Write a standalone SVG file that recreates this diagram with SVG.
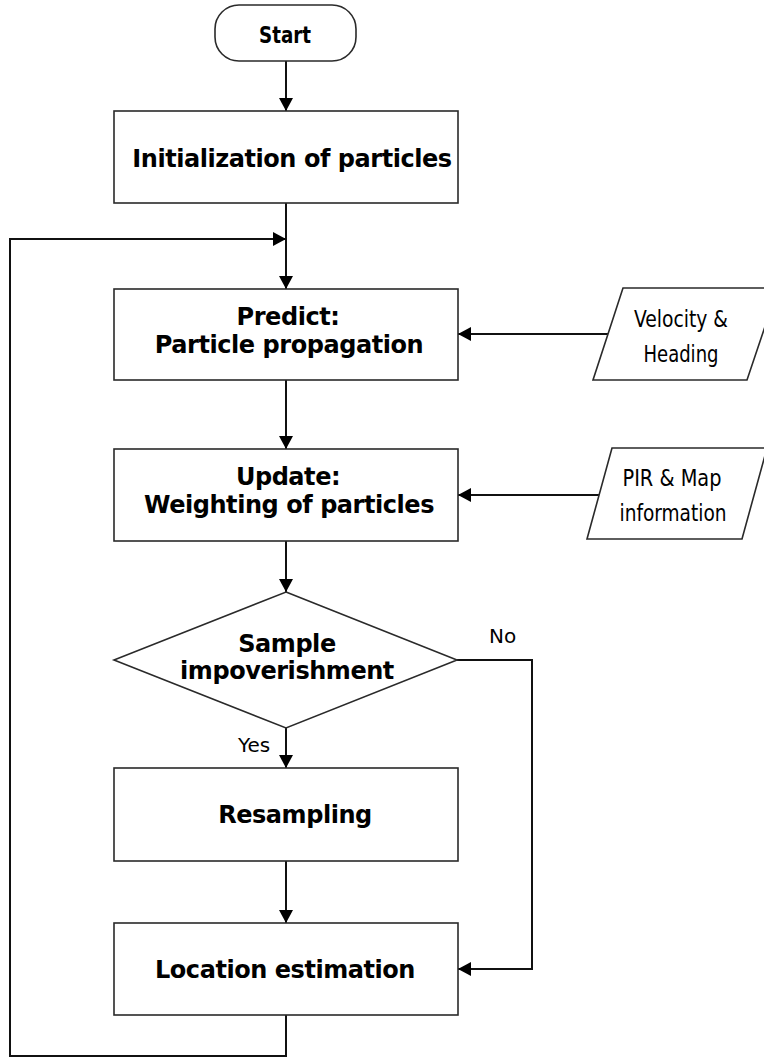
<svg xmlns="http://www.w3.org/2000/svg" width="764" height="1057" viewBox="0 0 764 1057">
  <style>
    .box { fill: #ffffff; stroke: #2a2a2a; stroke-width: 1.6; }
    .wire { fill: none; stroke: #111111; stroke-width: 2; }
    .head { font-family: "DejaVu Sans", Verdana, sans-serif; font-weight: bold; font-size: 24px; letter-spacing: -0.45px; fill: #000000; text-anchor: middle; }
    .io { font-family: "DejaVu Sans Condensed", "DejaVu Sans", Tahoma, sans-serif; font-stretch: condensed; font-size: 23px; fill: #000000; text-anchor: middle; }
    .lbl { font-family: "DejaVu Sans", Verdana, sans-serif; font-size: 20px; fill: #000000; }
  </style>
  <defs>
    <marker id="arrow" markerUnits="userSpaceOnUse" markerWidth="14" markerHeight="14" refX="13" refY="7" orient="auto">
      <path d="M0,0 L13,7 L0,14 z" fill="#000000"/>
    </marker>
  </defs>

  <rect width="764" height="1057" fill="#ffffff"/>

  <!-- connectors -->
  <g id="connectors">
    <line class="wire" x1="286" y1="61" x2="286" y2="111" marker-end="url(#arrow)"/>
    <line class="wire" x1="286" y1="203" x2="286" y2="289" marker-end="url(#arrow)"/>
    <line class="wire" x1="286" y1="380" x2="286" y2="449" marker-end="url(#arrow)"/>
    <line class="wire" x1="286" y1="541" x2="286" y2="592" marker-end="url(#arrow)"/>
    <line class="wire" x1="286" y1="728" x2="286" y2="768" marker-end="url(#arrow)"/>
    <line class="wire" x1="286" y1="861" x2="286" y2="923" marker-end="url(#arrow)"/>
    <!-- inputs from the side -->
    <line class="wire" x1="608" y1="334" x2="458" y2="334" marker-end="url(#arrow)"/>
    <line class="wire" x1="599" y1="495" x2="458" y2="495" marker-end="url(#arrow)"/>
    <!-- "No" branch skips resampling -->
    <polyline class="wire" points="457,660 532,660 532,969 458,969" marker-end="url(#arrow)"/>
    <!-- feedback loop back to prediction -->
    <polyline class="wire" points="286,1015 286,1056 10,1056 10,239 286,239" marker-end="url(#arrow)"/>
    <text class="lbl" x="489" y="643">No</text>
    <text class="lbl" x="238" y="752">Yes</text>
  </g>

  <g id="start">
    <rect class="box" x="215" y="5" width="141" height="56" rx="24" ry="24"/>
    <text x="285" y="43" font-family="'DejaVu Sans Condensed', 'DejaVu Sans', Tahoma, sans-serif" font-weight="bold" font-stretch="condensed" font-size="23" text-anchor="middle" textLength="52" lengthAdjust="spacingAndGlyphs">Start</text>
  </g>

  <g id="init">
    <rect class="box" x="114" y="111" width="344" height="92"/>
    <text class="head" x="292" y="167">Initialization of particles</text>
  </g>

  <g id="predict">
    <rect class="box" x="114" y="289" width="344" height="91"/>
    <text class="head" x="288" y="325">Predict:</text>
    <text class="head" x="289" y="353">Particle propagation</text>
  </g>

  <g id="velocity">
    <polygon class="box" points="623,288 778,288 747,380 593,380"/>
    <text class="io" x="681" y="327" textLength="94" lengthAdjust="spacingAndGlyphs">Velocity &amp;</text>
    <text class="io" x="681" y="362" textLength="75" lengthAdjust="spacingAndGlyphs">Heading</text>
  </g>

  <g id="update">
    <rect class="box" x="114" y="449" width="344" height="92"/>
    <text class="head" x="288" y="485">Update:</text>
    <text class="head" x="289" y="513">Weighting of particles</text>
  </g>

  <g id="pir">
    <polygon class="box" points="612,448 767,448 742,539 587,539"/>
    <text class="io" x="672" y="486" textLength="99" lengthAdjust="spacingAndGlyphs">PIR &amp; Map</text>
    <text class="io" x="673" y="521" textLength="107" lengthAdjust="spacingAndGlyphs">information</text>
  </g>

  <g id="decision">
    <polygon class="box" points="286,592 457,660 286,728 114,660"/>
    <text class="head" x="287" y="652">Sample</text>
    <text class="head" x="287" y="679">impoverishment</text>
  </g>

  <g id="resampling">
    <rect class="box" x="114" y="768" width="344" height="93"/>
    <text class="head" x="295" y="823">Resampling</text>
  </g>

  <g id="location">
    <rect class="box" x="114" y="923" width="344" height="92"/>
    <text class="head" x="285" y="978">Location estimation</text>
  </g>
</svg>
